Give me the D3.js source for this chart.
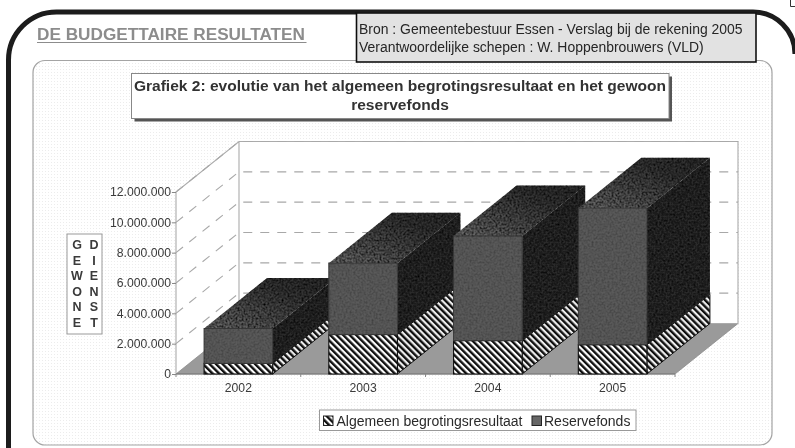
<!DOCTYPE html>
<html><head><meta charset="utf-8">
<script src="https://d3js.org/d3.v7.min.js"></script>
<style>html,body{margin:0;padding:0;background:#fff}svg{display:block}text{font-family:"Liberation Sans",Arial,sans-serif}</style>
</head><body><svg id="c" width="795" height="448"></svg>
<script>
const categories=["2002","2003","2004","2005"];
const algemeen=[700000,2600000,2200000,1930000];
const reservefonds=[2300000,4700000,6900000,9000000];
const yTicks=[0,2000000,4000000,6000000,8000000,10000000,12000000];
const seriesNames=["Algemeen begrotingsresultaat","Reservefonds"];
const sideLabels=[["G","E","W","O","N","E"],["D","I","E","N","S","T"]];
const titleLines=["Grafiek 2: evolutie van het algemeen begrotingsresultaat en het gewoon","reservefonds"];
const sourceLines=["Bron : Gemeentebestuur Essen - Verslag bij de rekening 2005","Verantwoordelijke schepen : W. Hoppenbrouwers (VLD)"];

const svg=d3.select("#c");
const W=795,H=448;
const x=d3.scaleBand().domain(categories).range([176,675]).paddingInner(0.45).paddingOuter(0.225);
const y=d3.scaleLinear().domain([0,12000000]).range([374,192]);
const DX=63,DY=-50.5;
const fmt=v=>d3.format(",")(v).replace(/,/g,".");
const defs=svg.append("defs");
const soft=defs.append("filter").attr("id","soft").attr("x",0).attr("y",0).attr("width",1).attr("height",1);
soft.append("feGaussianBlur").attr("stdDeviation",0.6);
const grain=defs.append("filter").attr("id","grain").attr("x",0).attr("y",0).attr("width",1).attr("height",1);
grain.append("feTurbulence").attr("type","fractalNoise").attr("baseFrequency",0.5).attr("numOctaves",2).attr("seed",4).attr("result","n");
grain.append("feColorMatrix").attr("in","n").attr("values","0 0 0 0 0  0 0 0 0 0  0 0 0 0 0  1.2 1.2 0 0 -0.95").attr("result","m");
grain.append("feComposite").attr("in","m").attr("in2","SourceAlpha").attr("operator","in");
const dot=defs.append("pattern").attr("id","dots").attr("width",3).attr("height",3).attr("patternUnits","userSpaceOnUse");
dot.append("rect").attr("width",1).attr("height",1).attr("fill","#ececec");
const hatchFront=defs.append("pattern").attr("id","hf").attr("width",4.6).attr("height",4.6).attr("patternUnits","userSpaceOnUse").attr("patternTransform","rotate(-45)");
hatchFront.append("rect").attr("width",4.6).attr("height",4.6).attr("fill","#fff");
hatchFront.append("rect").attr("width",2.4).attr("height",4.6).attr("fill","#111");
const hatchSide=defs.append("pattern").attr("id","hs").attr("width",4.6).attr("height",4.6).attr("patternUnits","userSpaceOnUse").attr("patternTransform","rotate(-45)");
hatchSide.append("rect").attr("width",4.6).attr("height",4.6).attr("fill","#eee");
hatchSide.append("rect").attr("width",2.4).attr("height",4.6).attr("fill","#111");
const shade=defs.append("linearGradient").attr("id","top").attr("x1",0).attr("y1",1).attr("x2",1).attr("y2",0);
shade.append("stop").attr("offset",0).attr("stop-color","#6a6a6a");
shade.append("stop").attr("offset",0.7).attr("stop-color","#333");
shade.append("stop").attr("offset",1).attr("stop-color","#2c2c2c");

const root=svg.append("g").attr("filter","url(#soft)");
root.append("rect").attr("width",W).attr("height",H).attr("fill","#fff");

// outer page frame
root.append("path").attr("d","M8.5,448 V60 A48,48 0 0 1 56.5,12 H753 A42,42 0 0 1 795,54").attr("fill","none").attr("stroke","#1a1a1a").attr("stroke-width",5);
root.append("path").attr("d","M790.5,0 V6.5 H795").attr("fill","none").attr("stroke","#333").attr("stroke-width",1);

// chart panel
const panel=root.append("g");
panel.append("rect").attr("x",33).attr("y",60.5).attr("width",739).attr("height",384.5).attr("rx",12).attr("fill","#fff");
panel.append("rect").attr("x",33).attr("y",60.5).attr("width",739).attr("height",384.5).attr("rx",12).attr("fill","url(#dots)").attr("stroke","#a4a4a4").attr("stroke-width",1.2);

// heading + source box
root.append("text").attr("x",37).attr("y",39.5).attr("font-size",17.2).attr("font-weight",700).attr("fill","#8c8c8c").text("DE BUDGETTAIRE RESULTATEN");
root.append("line").attr("x1",37).attr("x2",306.5).attr("y1",42.5).attr("y2",42.5).attr("stroke","#8c8c8c").attr("stroke-width",1.2);
root.append("rect").attr("x",356.5).attr("y",13).attr("width",399.5).attr("height",49).attr("fill","#e2e2e2").attr("stroke","#111").attr("stroke-width",1.6);
root.append("g").selectAll("text").data(sourceLines).join("text").attr("x",359).attr("y",(d,i)=>34+i*18).attr("font-size",13.95).attr("fill","#262626").text(d=>d);

// chart title
root.append("rect").attr("x",134.5).attr("y",76.5).attr("width",537.5).attr("height",45).attr("fill","#555");
root.append("rect").attr("x",131.5).attr("y",73.5).attr("width",537.5).attr("height",45).attr("fill","#fff").attr("stroke","#888").attr("stroke-width",1);
root.append("g").selectAll("text").data(titleLines).join("text").attr("x",400).attr("y",(d,i)=>91+i*19).attr("text-anchor","middle").attr("font-size",15.55).attr("font-weight",700).attr("fill","#333").text(d=>d);

// 3D plot walls
const x0=x.range()[0],x1=x.range()[1],y0=y(0),yT=y(12000000);
const poly=(pts)=>pts.map(p=>p.join(",")).join(" ");
const plot=root.append("g");
plot.append("polygon").attr("points",poly([[x0,y0],[x0+DX,y0+DY],[x0+DX,yT+DY],[x0,yT]])).attr("fill","#fff");
plot.append("rect").attr("x",x0+DX).attr("y",yT+DY).attr("width",x1-x0).attr("height",y0-yT).attr("fill","#fff");
plot.append("polygon").attr("points",poly([[x0,y0],[x1,y0],[x1+DX,y0+DY],[x0+DX,y0+DY]])).attr("fill","#9a9a9a").attr("stroke","#8a8a8a").attr("stroke-width",.8);
plot.append("polyline").attr("points",poly([[x0,y0],[x0,yT],[x0+DX,yT+DY],[x1+DX,yT+DY],[x1+DX,y0+DY],[x0+DX,y0+DY],[x0+DX,yT+DY]])).attr("fill","none").attr("stroke","#ababab").attr("stroke-width",1.1);
plot.append("line").attr("x1",x0).attr("x2",x1).attr("y1",y0).attr("y2",y0).attr("stroke","#777").attr("stroke-width",1.2);
const grid=yTicks.filter(v=>v>0);
plot.append("g").selectAll("path").data(grid).join("path").attr("d",v=>`M${x0},${y(v)} L${x0+DX},${y(v)+DY} H${x1+DX}`).attr("fill","none").attr("stroke","#a8a8a8").attr("stroke-width",1.1).attr("stroke-dasharray","9 8");

// axes, built with d3 axis
const yAxis=root.append("g").attr("transform",`translate(${x0},0)`).call(d3.axisLeft(y).tickValues(yTicks).tickFormat(fmt).tickSize(4).tickPadding(1));
yAxis.select(".domain").remove();
yAxis.selectAll("line").attr("stroke","#888");
yAxis.selectAll("text").attr("font-size",12.2).attr("fill","#3a3a3a").attr("font-family","'Liberation Sans',Arial,sans-serif");
const xAxis=root.append("g").attr("transform",`translate(0,${y0})`).call(d3.axisBottom(x).tickSize(0).tickPadding(9));
xAxis.select(".domain").remove();
xAxis.selectAll("text").attr("font-size",12.2).attr("fill","#3a3a3a").attr("font-family","'Liberation Sans',Arial,sans-serif");
root.append("g").selectAll("line").data(d3.range(5)).join("line").attr("x1",i=>x0+i*(x1-x0)/4).attr("x2",i=>x0+i*(x1-x0)/4).attr("y1",y0).attr("y2",y0+3).attr("stroke","#888");

// stacked 3D bars, drawn left to right so nearer faces overlap correctly
const bars=root.append("g");
categories.forEach((c,i)=>{
  const l=x(c),r=l+x.bandwidth(),a=algemeen[i],t=a+reservefonds[i];
  const g=bars.append("g");
  const ya=y(a),yt=y(t);
  g.append("polygon").attr("points",poly([[r,y0],[r+DX,y0+DY],[r+DX,ya+DY],[r,ya]])).attr("fill","url(#hs)").attr("stroke","#111").attr("stroke-width",1);
  g.append("polygon").attr("points",poly([[r,ya],[r+DX,ya+DY],[r+DX,yt+DY],[r,yt]])).attr("fill","#2a2a2a");
  g.append("polygon").attr("points",poly([[l,yt],[l+DX,yt+DY],[r+DX,yt+DY],[r,yt]])).attr("fill","url(#top)");
  // scan grain on the top and side faces
  g.append("polygon").attr("points",poly([[l,yt],[l+DX,yt+DY],[r+DX,yt+DY],[r+DX,ya+DY],[r,ya],[r,yt]])).attr("fill","#000").attr("filter","url(#grain)");
  g.append("rect").attr("x",l).attr("y",ya).attr("width",r-l).attr("height",y0-ya).attr("fill","url(#hf)").attr("stroke","#111").attr("stroke-width",1.1);
  g.append("rect").attr("x",l).attr("y",yt).attr("width",r-l).attr("height",ya-yt).attr("fill","#5a5a5a").attr("stroke","#3a3a3a").attr("stroke-width",1);
  g.append("rect").attr("x",l).attr("y",yt).attr("width",r-l).attr("height",ya-yt).attr("fill","#000").attr("opacity",0.3).attr("filter","url(#grain)");
});

// side label
const side=root.append("g");
side.append("rect").attr("x",67).attr("y",234).attr("width",35).attr("height",100).attr("fill","#fff").attr("stroke","#999").attr("stroke-width",1);
sideLabels.forEach((col,ci)=>side.append("g").selectAll("text").data(col).join("text").attr("x",77+ci*17).attr("y",(d,i)=>249+i*15.6).attr("text-anchor","middle").attr("font-size",12.5).attr("font-weight",700).attr("fill","#3a3a3a").text(d=>d));

// legend
const leg=root.append("g");
leg.append("rect").attr("x",319.5).attr("y",410).attr("width",316.5).attr("height",20.5).attr("fill","#fff").attr("stroke","#999").attr("stroke-width",1);
leg.append("rect").attr("x",323.5).attr("y",416).attr("width",9.5).attr("height",9.5).attr("fill","url(#hf)").attr("stroke","#222");
leg.append("text").attr("x",336.5).attr("y",425.5).attr("font-size",14).attr("fill","#2a2a2a").text(seriesNames[0]);
leg.append("rect").attr("x",532).attr("y",416).attr("width",9.5).attr("height",9.5).attr("fill","#666").attr("stroke","#222");
leg.append("text").attr("x",544).attr("y",425.5).attr("font-size",14).attr("fill","#2a2a2a").text(seriesNames[1]);
</script></body></html>
